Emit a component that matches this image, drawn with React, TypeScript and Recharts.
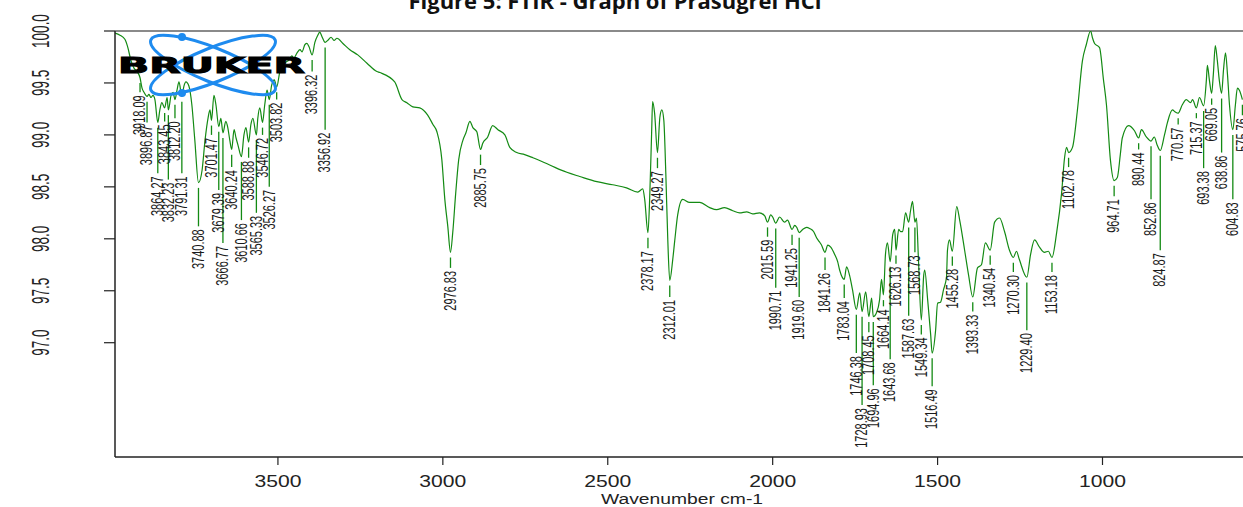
import { ComposedChart, Line, Scatter, XAxis, YAxis, ReferenceLine } from "recharts"

// transmittance (%) at points between the labelled bands
const shoulders: [number, number][] = [
  [3994, 99.98], [3979, 99.96], [3964, 99.92], [3955, 99.84], [3946, 99.72], [3936, 99.64], [3927, 99.61],
  [3912, 99.45], [3906, 99.41], [3891, 99.39], [3885, 99.36], [3879, 99.38], [3873, 99.34],
  [3858, 99.24], [3852, 99.31], [3836, 99.36], [3824, 99.38], [3818, 99.41], [3806, 99.43], [3800, 99.51],
  [3785, 99.47], [3779, 99.51], [3770, 99.47], [3761, 99.29], [3752, 98.95],
  [3730, 98.66], [3721, 98.95], [3712, 99.16], [3706, 99.24], [3694, 99.38], [3688, 99.29],
  [3673, 99.16], [3658, 99.13], [3652, 99.07], [3646, 98.95], [3633, 99.05], [3627, 98.97], [3621, 98.9],
  [3603, 99.0], [3597, 99.07], [3582, 99.1], [3576, 99.16], [3561, 99.16], [3555, 99.26],
  [3540, 99.29], [3533, 99.43], [3519, 99.48], [3511, 99.53],
  [3494, 99.61], [3485, 99.67], [3476, 99.7], [3467, 99.72], [3458, 99.76], [3452, 99.74], [3442, 99.79],
  [3433, 99.82], [3427, 99.8], [3418, 99.87], [3412, 99.88], [3406, 99.85],
  [3388, 99.89], [3379, 99.96], [3373, 99.99], [3367, 99.95],
  [3349, 99.91], [3339, 99.94], [3330, 99.91], [3321, 99.93], [3303, 99.88], [3282, 99.82], [3258, 99.77],
  [3230, 99.69], [3200, 99.61], [3191, 99.6], [3146, 99.51], [3124, 99.34], [3109, 99.31], [3091, 99.27],
  [3070, 99.26], [3046, 99.19], [3030, 99.1], [3018, 99.03], [3003, 98.76], [2994, 98.38], [2985, 98.12],
  [2970, 98.06], [2961, 98.44], [2952, 98.76], [2939, 98.95], [2930, 99.02], [2918, 99.13], [2909, 99.07], [2897, 99.03],
  [2879, 98.92], [2864, 98.98], [2849, 99.09], [2833, 99.05], [2812, 99.0], [2797, 98.88], [2776, 98.83],
  [2752, 98.81], [2727, 98.78], [2676, 98.71], [2624, 98.64], [2585, 98.6], [2533, 98.55], [2485, 98.52],
  [2443, 98.49], [2409, 98.45], [2394, 98.48], [2388, 98.38],
  [2373, 98.38], [2367, 99.02], [2364, 99.32], [2358, 99.21],
  [2342, 99.17], [2336, 99.24], [2330, 99.14], [2324, 98.63], [2318, 97.99],
  [2303, 97.8], [2297, 97.98], [2288, 98.23], [2273, 98.38], [2252, 98.35], [2221, 98.35], [2191, 98.3],
  [2170, 98.28], [2146, 98.3], [2121, 98.27], [2100, 98.25], [2079, 98.26], [2061, 98.24], [2040, 98.25], [2024, 98.22],
  [2006, 98.23], [2000, 98.21], [1979, 98.21], [1964, 98.16], [1955, 98.18], [1933, 98.13], [1927, 98.11],
  [1909, 98.09], [1897, 98.11], [1888, 98.1], [1876, 98.07], [1867, 98.01], [1858, 97.97], [1852, 97.94],
  [1833, 97.94], [1824, 97.92], [1812, 97.85], [1803, 97.78], [1797, 97.7],
  [1776, 97.73], [1767, 97.65], [1758, 97.51], [1736, 97.48], [1718, 97.49], [1700, 97.43],
  [1685, 97.29], [1676, 97.41], [1670, 97.61], [1658, 97.85], [1652, 97.96],
  [1636, 98.04], [1630, 98.09], [1618, 98.09], [1612, 98.07], [1606, 98.07], [1597, 98.25],
  [1582, 98.27], [1576, 98.36], [1564, 98.2], [1558, 97.8],
  [1542, 97.65], [1539, 97.7], [1530, 97.41], [1521, 97.08],
  [1506, 97.12], [1500, 97.38], [1491, 97.39], [1482, 97.51], [1473, 97.63], [1470, 97.89], [1464, 97.99],
  [1442, 98.31], [1433, 98.18], [1418, 97.89], [1406, 97.65],
  [1379, 97.72], [1367, 97.75], [1355, 97.96],
  [1327, 98.16], [1312, 98.2], [1297, 98.07], [1282, 97.89], [1261, 97.88], [1252, 97.8],
  [1218, 97.85], [1206, 97.99], [1191, 97.92], [1176, 97.87], [1164, 97.88],
  [1139, 98.06], [1124, 98.44], [1115, 98.78], [1109, 98.88],
  [1091, 98.88], [1076, 99.24], [1061, 99.71], [1049, 99.87], [1036, 100.0], [1030, 99.93], [1024, 99.88],
  [1009, 99.84], [997, 99.53], [988, 99.29], [976, 98.76],
  [955, 98.59], [946, 98.81], [940, 98.97], [921, 99.09], [903, 99.04],
  [882, 99.05], [867, 98.98], [843, 98.98], [834, 98.9],
  [812, 99.0], [803, 99.12], [788, 99.24], [779, 99.22],
  [758, 99.29], [746, 99.34], [733, 99.31], [727, 99.34], [706, 99.36],
  [685, 99.53], [682, 99.67], [676, 99.53], [664, 99.58], [658, 99.86], [652, 99.72], [646, 99.53],
  [633, 99.63], [627, 99.79], [621, 99.58], [615, 99.29], [597, 99.29], [591, 99.45], [585, 99.43],
]

// labelled bands: wavenumber, transmittance at the band, where its marker line ends
const peaks: [number, number, number][] = [
  [3918.09, 99.55, 99.41], [3896.87, 99.37, 99.12], [3864.27, 99.12, 98.63], [3843.45, 99.26, 99.13],
  [3832.23, 99.24, 98.57], [3812.2, 99.34, 99.16], [3791.31, 99.37, 98.63], [3740.88, 98.54, 98.12],
  [3701.47, 99.14, 99.0], [3679.39, 99.08, 98.47], [3666.77, 99.02, 97.96], [3640.24, 98.86, 98.69],
  [3610.66, 98.79, 98.18], [3588.88, 98.93, 98.78], [3565.33, 99.0, 98.25], [3546.72, 99.12, 99.0],
  [3526.27, 99.34, 98.5], [3503.82, 99.46, 99.34], [3396.32, 99.77, 99.61], [3356.92, 99.89, 99.05],
  [2976.83, 97.87, 97.72], [2885.75, 98.86, 98.71], [2378.17, 98.06, 97.91], [2349.27, 98.83, 98.68],
  [2312.01, 97.6, 97.44], [2015.59, 98.16, 98.02], [1990.71, 98.15, 97.53], [1941.25, 98.09, 97.94],
  [1919.6, 98.06, 97.44], [1841.26, 97.87, 97.7], [1783.04, 97.61, 97.43], [1746.38, 97.32, 96.9],
  [1728.93, 97.3, 96.4], [1708.45, 97.25, 97.1], [1694.96, 97.25, 96.59], [1664.14, 97.46, 97.35],
  [1643.68, 97.78, 96.84], [1626.13, 97.89, 97.76], [1587.63, 98.16, 97.26], [1568.73, 98.16, 97.87],
  [1549.34, 97.22, 97.08], [1516.49, 96.9, 96.58], [1455.28, 97.88, 97.74], [1393.33, 97.44, 97.3],
  [1340.54, 97.89, 97.75], [1270.3, 97.82, 97.68], [1229.4, 97.63, 97.12], [1153.18, 97.82, 97.68],
  [1102.78, 98.83, 98.69], [964.71, 98.56, 98.41], [890.44, 98.97, 98.86], [852.86, 98.94, 98.38],
  [824.87, 98.85, 97.89], [770.57, 99.21, 99.1], [715.37, 99.26, 99.16], [693.38, 99.28, 98.68],
  [669.05, 99.4, 99.29], [638.86, 99.4, 98.83], [604.83, 99.05, 98.38], [575.76, 99.34, 99.19],
]

const xTicks = [3500, 3000, 2500, 2000, 1500, 1000]
const yTicks = [97.0, 97.5, 98.0, 98.5, 99.0, 99.5, 100.0]

const spectrum = [
  ...shoulders.map(([w, t]) => ({ w, t })),
  ...peaks.map(([w, t]) => ({ w, t })),
].sort((a, b) => b.w - a.w)

const peakLabels = peaks.map(([w, , end]) => ({ w, t: end, label: w.toFixed(2) }))

const GREEN = "#138a13"
const FONT = "'Liberation Sans', Arial, sans-serif"

function XTick({ x, payload }: any) {
  return (
    <text
      transform={`translate(${x},487) scale(1.28,1)`}
      textAnchor="middle"
      fontSize={16.5}
      fontFamily={FONT}
      fill="#222"
    >
      {payload.value}
    </text>
  )
}

function YTick({ y, payload }: any) {
  return (
    <text
      transform={`translate(40,${y}) rotate(-90) scale(1,1.8)`}
      textAnchor="middle"
      dominantBaseline="central"
      fontSize={13.5}
      fontFamily={FONT}
      fill="#222"
    >
      {payload.value.toFixed(1)}
    </text>
  )
}

function PeakLabel({ cx, cy, payload }: any) {
  return (
    <text
      transform={`translate(${cx},${cy + 3}) rotate(-90) scale(1,1.45)`}
      textAnchor="end"
      dominantBaseline="central"
      fontSize={11}
      fontFamily={FONT}
      fill="#1a1a1a"
    >
      {payload.label}
    </text>
  )
}

function Overlay() {
  return (
    <svg
      width={1243}
      height={507}
      style={{ position: "absolute", left: 0, top: 0, pointerEvents: "none" }}
    >
      <text x={615} y={9} textAnchor="middle" fontSize={22} fontWeight="bold" fontFamily="'Open Sans', sans-serif" fill="#111">
        Figure 5:  FTIR - Graph of Prasugrel HCl
      </text>
      <g fill="none" stroke="#1e8bef" strokeWidth={3}>
        <ellipse cx={213} cy={65} rx={67} ry={17} transform="rotate(22 213 65)" />
        <ellipse cx={213} cy={65} rx={67} ry={17} transform="rotate(-22 213 65)" />
      </g>
      <circle cx={182} cy={37} r={4} fill="#1e8bef" />
      <circle cx={182} cy={93} r={4} fill="#1e8bef" />
      <text
        x={118}
        y={73}
        fontSize={22}
        fontWeight="bold"
        fontFamily="'DejaVu Sans', sans-serif"
        textLength={187}
        lengthAdjust="spacingAndGlyphs"
        fill="#000"
        stroke="#000"
        strokeWidth={1}
      >
        BRUKER
      </text>
      <text
        transform="translate(682,504) scale(1.33,1)"
        textAnchor="middle"
        fontSize={14.5}
        fontFamily={FONT}
        fill="#222"
      >
        Wavenumber cm-1
      </text>
    </svg>
  )
}

export default function App() {
  return (
    <div style={{ position: "absolute", left: 0, top: 0, width: 1243, height: 507, background: "#fff" }}>
      <ComposedChart width={1243} height={507} margin={{ top: 31, right: 0, bottom: 0, left: 0 }}>
        <XAxis
          type="number"
          dataKey="w"
          domain={[574, 3994]}
          reversed
          allowDataOverflow
          ticks={xTicks}
          tickSize={8}
          tick={<XTick />}
          height={50}
          axisLine={{ stroke: "#222", strokeWidth: 1.5 }}
          tickLine={{ stroke: "#222", strokeWidth: 1.2 }}
        />
        <YAxis
          type="number"
          dataKey="t"
          domain={[95.9, 100]}
          allowDataOverflow
          ticks={yTicks}
          tickSize={11}
          tick={<YTick />}
          width={115}
          axisLine={{ stroke: "#222", strokeWidth: 1.5 }}
          tickLine={{ stroke: "#222", strokeWidth: 1.2 }}
        />
        <ReferenceLine y={100} stroke="#8a8a8a" strokeWidth={2} />
        {peaks.map(([w, t, end]) => (
          <ReferenceLine
            key={w}
            segment={[{ x: w, y: t - 0.05 }, { x: w, y: end }]}
            stroke={GREEN}
            strokeWidth={1.3}
          />
        ))}
        <Line
          data={spectrum}
          dataKey="t"
          type="monotone"
          stroke={GREEN}
          strokeWidth={1.2}
          dot={false}
          isAnimationActive={false}
        />
        <Scatter data={peakLabels} dataKey="t" shape={<PeakLabel />} isAnimationActive={false} />
      </ComposedChart>
      <Overlay />
    </div>
  )
}
